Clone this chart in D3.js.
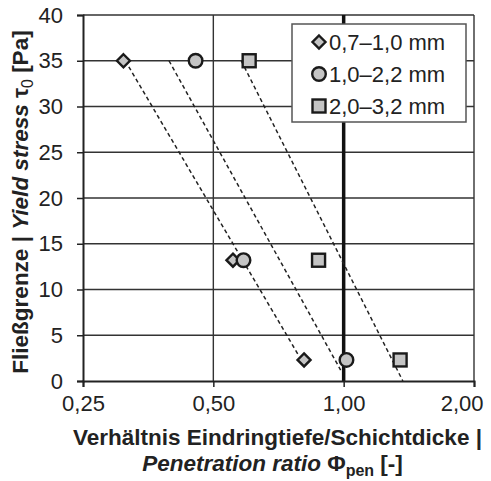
<!DOCTYPE html>
<html>
<head>
<meta charset="utf-8">
<script src="https://cdn.jsdelivr.net/npm/d3@7"></script>
<style>
  html, body { margin: 0; padding: 0; background: #fff; }
  svg { display: block; font-family: "Liberation Sans", Arial, sans-serif; }
</style>
</head>
<body>
<div id="chart"></div>
<script>
const sizeClasses   = ['0,7–1,0 mm', '1,0–2,2 mm', '2,0–3,2 mm'];
const markerShapes  = ['diamond', 'circle', 'square'];
const yieldStress   = [35, 13.2, 2.3];
const ratioFine     = [0.31, 0.555, 0.81];
const ratioMedium   = [0.455, 0.587, 1.015];
const ratioCoarse   = [0.605, 0.875, 1.35];
const trendFine     = [[0.313, 35], [0.787, 2.8]];
const trendMedium   = [[0.395, 35], [0.984, 1.2]];
const trendCoarse   = [[0.58, 35], [1.37, 0]];
const xTicks        = [0.25, 0.5, 1, 2];
const xTickLabels   = ['0,25', '0,50', '1,00', '2,00'];
const yTicks        = [0, 5, 10, 15, 20, 25, 30, 35, 40];

const W = 491, H = 481;
const PLOT = { left: 83, right: 474, top: 15, bottom: 381 };
const C_GRID = '#333';
const C_FILL = '#c4c4c4';

const svg = d3.select('#chart').append('svg')
    .attr('width', W)
    .attr('height', H);

const x = d3.scaleLog().base(2).domain([0.25, 2]).range([PLOT.left, PLOT.right]);
const y = d3.scaleLinear().domain([0, 40]).range([PLOT.bottom, PLOT.top]);

// grid
svg.append('g').selectAll('line').data(yTicks.filter(d => d > 0)).enter().append('line')
    .attr('x1', PLOT.left).attr('x2', PLOT.right)
    .attr('y1', d => y(d)).attr('y2', d => y(d))
    .attr('stroke', C_GRID).attr('stroke-width', 1.4);

svg.append('g').selectAll('line').data(xTicks.filter(d => d > 0.25)).enter().append('line')
    .attr('x1', d => x(d)).attr('x2', d => x(d))
    .attr('y1', PLOT.top).attr('y2', PLOT.bottom)
    .attr('stroke', d => d === 1 ? '#111' : C_GRID)
    .attr('stroke-width', d => d === 1 ? 3.5 : 1.4);

// axes
const yAxis = svg.append('g').attr('transform', `translate(${PLOT.left},0)`)
    .call(d3.axisLeft(y).tickValues(yTicks).tickSize(6).tickPadding(14));
const xAxis = svg.append('g').attr('transform', `translate(0,${PLOT.bottom})`)
    .call(d3.axisBottom(x).tickValues(xTicks).tickSize(6).tickPadding(8)
        .tickFormat((d, i) => xTickLabels[i]));

[xAxis, yAxis].forEach(a => {
    a.select('.domain').attr('stroke', '#222').attr('stroke-width', 2);
    a.selectAll('.tick line').attr('stroke', '#222').attr('stroke-width', 1.5);
    a.selectAll('.tick text').attr('fill', '#222').style('font-size', '22px')
        .style('font-family', '"Liberation Sans", Arial, sans-serif');
});
// last x label pulled in so it stays on the page
xAxis.selectAll('.tick text').filter(d => d === 2)
    .attr('text-anchor', 'end').attr('x', W - 8 - PLOT.right);

// trend lines
const line = d3.line().x(d => x(d[0])).y(d => y(d[1]));
[trendFine, trendMedium, trendCoarse].forEach(t => {
    svg.append('path').attr('d', line(t))
        .attr('fill', 'none').attr('stroke', '#222')
        .attr('stroke-width', 1.5).attr('stroke-dasharray', '4,3');
});

// markers
function drawMarker(sel, shape) {
    if (shape === 'diamond') {
        sel.append('path').attr('d', 'M0,-6.5L6.5,0L0,6.5L-6.5,0Z');
    } else if (shape === 'circle') {
        sel.append('circle').attr('r', 6.8);
    } else {
        sel.append('rect').attr('x', -6.5).attr('y', -6.5).attr('width', 13).attr('height', 13);
    }
    sel.selectAll('path, circle, rect')
        .attr('fill', C_FILL).attr('stroke', '#1a1a1a').attr('stroke-width', 2.4);
}

[ratioFine, ratioMedium, ratioCoarse].forEach((ratios, si) => {
    ratios.forEach((r, i) => {
        const g = svg.append('g').attr('transform', `translate(${x(r)},${y(yieldStress[i])})`);
        drawMarker(g, markerShapes[si]);
    });
});

// legend
const legend = svg.append('g').attr('transform', 'translate(292,24)');
legend.append('rect').attr('width', 174).attr('height', 98)
    .attr('fill', '#fff').attr('stroke', '#555').attr('stroke-width', 1.5);
sizeClasses.forEach((label, i) => {
    const row = legend.append('g').attr('transform', `translate(0,${18 + i * 32})`);
    drawMarker(row.append('g').attr('transform', 'translate(27,0)'), markerShapes[i]);
    row.append('text').attr('x', 37).attr('y', 8)
        .attr('fill', '#222').style('font-size', '22px').text(label);
});

// x title
const cx = (PLOT.left + PLOT.right) / 2;
svg.append('text').attr('x', cx - 1).attr('y', 445).attr('text-anchor', 'middle')
    .attr('fill', '#222').style('font-size', '22.5px').style('font-weight', 'bold')
    .text('Verhältnis Eindringtiefe/Schichtdicke |');
const xt2 = svg.append('text').attr('x', cx - 6).attr('y', 471).attr('text-anchor', 'middle')
    .attr('fill', '#222').style('font-size', '22.5px').style('font-weight', 'bold');
xt2.append('tspan').style('font-style', 'italic').text('Penetration ratio ');
xt2.append('tspan').text('Φ');
xt2.append('tspan').attr('dy', 5).style('font-size', '16px').text('pen');
xt2.append('tspan').attr('dy', -5).text(' [-]');

// y title
const yt = svg.append('text')
    .attr('transform', `translate(28,${(PLOT.top + PLOT.bottom) / 2 + 4}) rotate(-90)`)
    .attr('text-anchor', 'middle')
    .attr('fill', '#222').style('font-size', '22.5px').style('font-weight', 'bold');
yt.append('tspan').text('Fließgrenze | ');
yt.append('tspan').style('font-style', 'italic').text('Yield stress ');
yt.append('tspan').text('τ');
yt.append('tspan').attr('dy', 5).style('font-size', '16px').style('font-weight', 'normal').text('0');
yt.append('tspan').attr('dy', -5).text(' [Pa]');
</script>
</body>
</html>
